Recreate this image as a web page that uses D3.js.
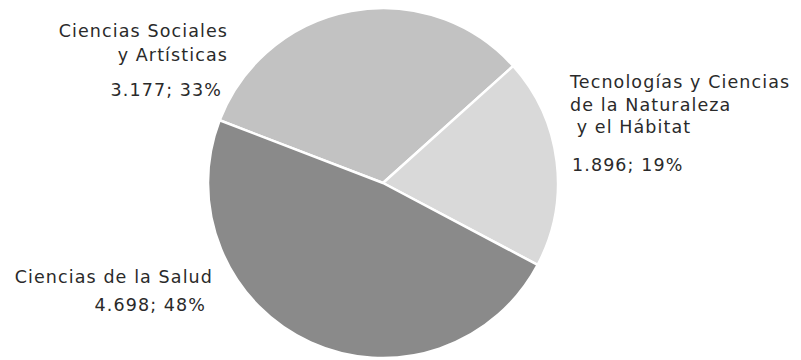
<!DOCTYPE html>
<html>
<head>
<meta charset="utf-8">
<script src="https://cdn.jsdelivr.net/npm/d3@7"></script>
<style>
  html, body { margin: 0; padding: 0; background: #fff; }
  svg { display: block; }
  text { font-family: "DejaVu Sans", "Open Sans", sans-serif; fill: #2a2a2a; letter-spacing: 1.1px; }
</style>
</head>
<body>
<svg id="chart" width="801" height="360"></svg>
<script>
// Data
const categories = ["Ciencias Sociales y Artísticas", "Tecnologías y Ciencias de la Naturaleza y el Hábitat", "Ciencias de la Salud"];
const values = [3177, 1896, 4698];
const percents = [33, 19, 48];
const valueLabels = ["3.177; 33%", "1.896; 19%", "4.698; 48%"];
const nameLines = [["Ciencias Sociales", "y Artísticas"], ["Tecnologías y Ciencias", "de la Naturaleza", " y el Hábitat"], ["Ciencias de la Salud"]];
const fills = ["#c2c2c2", "#d9d9d9", "#8a8a8a"];

const svg = d3.select("#chart");
const cx = 383, cy = 183, r = 175;

const pie = d3.pie().sort(null).value(d => d)
  .startAngle(-69 * Math.PI / 180)
  .endAngle(291 * Math.PI / 180);
const arcs = pie(values);
const arc = d3.arc().innerRadius(0).outerRadius(r);

const g = svg.append("g").attr("transform", `translate(${cx},${cy})`);
g.selectAll("path").data(arcs).enter().append("path")
  .attr("d", arc)
  .attr("fill", (d, i) => fills[i])
  .attr("stroke", "#fff")
  .attr("stroke-width", 2.5)
  .attr("stroke-linejoin", "round");

// Labels
const fs = 17.5;
const labelSpecs = [
  { x: 228, anchor: "end", ys: [37, 61], vx: 222, vy: 96 },
  { x: 570, anchor: "start", ys: [88, 111, 133], vx: 572, vy: 171 },
  { x: 213, anchor: "end", ys: [283], vx: 206, vy: 311 }
];
labelSpecs.forEach((s, i) => {
  nameLines[i].forEach((line, j) => {
    svg.append("text")
      .attr("x", s.x).attr("y", s.ys[j])
      .attr("text-anchor", s.anchor)
      .attr("font-size", fs)
      .style("white-space", "pre")
      .text(line);
  });
  svg.append("text")
    .attr("x", s.vx).attr("y", s.vy)
    .attr("text-anchor", s.anchor)
    .attr("font-size", fs)
    .text(valueLabels[i]);
});
</script>
</body>
</html>
